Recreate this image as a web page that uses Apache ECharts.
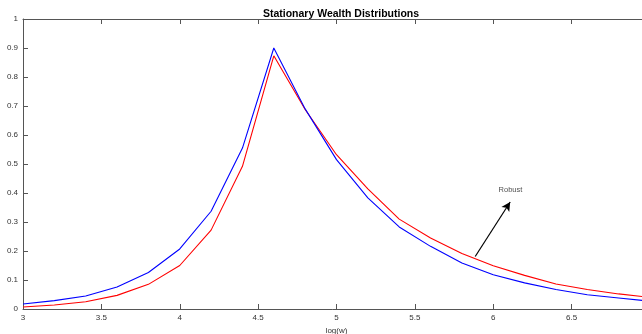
<!DOCTYPE html>
<html>
<head>
<meta charset="utf-8">
<script src="https://cdn.jsdelivr.net/npm/echarts@6/dist/echarts.min.js"></script>
<style>
  html, body { margin: 0; padding: 0; background: #fff; }
  #chart { width: 642px; height: 334px; }
</style>
</head>
<body>
<div id="chart"></div>
<script>
// log-wealth grid
const logW = [3.0, 3.2, 3.4, 3.6, 3.8, 4.0, 4.2, 4.4, 4.6, 4.8, 5.0,
              5.2, 5.4, 5.6, 5.8, 6.0, 6.2, 6.4, 6.6, 6.8, 7.0];
// density of the baseline model (blue)
const baseline = [0.017, 0.029, 0.045, 0.076, 0.126, 0.207, 0.337, 0.555, 0.900, 0.690, 0.515,
                  0.383, 0.283, 0.216, 0.159, 0.118, 0.090, 0.067, 0.049, 0.038, 0.027];
// density of the robust model (red)
const robust = [0.007, 0.014, 0.025, 0.047, 0.085, 0.150, 0.272, 0.492, 0.873, 0.688, 0.532,
                0.414, 0.310, 0.245, 0.191, 0.149, 0.116, 0.086, 0.067, 0.052, 0.040];
// annotation arrow and its text
const arrowFrom = [5.885, 0.181];
const arrowTo = [6.108, 0.369];
const noteText = 'Robust';
const notePos = [6.11, 0.41];

const axisColor = '#555';
const labelStyle = { fontSize: 8, color: '#333', fontFamily: 'Liberation Sans, Arial, sans-serif' };

function pairs(xs, ys) { return xs.map((x, i) => [x, ys[i]]); }

const chart = echarts.init(document.getElementById('chart'), null, { renderer: 'canvas' });
const boxAxis = {
  axisLine: { show: true, onZero: false, lineStyle: { color: axisColor, width: 1 } },
  axisTick: { show: true, inside: true, length: 5, lineStyle: { color: axisColor } },
  splitLine: { show: false }
};

chart.setOption({
  animation: false,
  backgroundColor: '#fff',
  title: {
    text: 'Stationary Wealth Distributions',
    left: 336, top: 4, textAlign: 'center',
    textStyle: { fontSize: 10.5, fontWeight: 'bold', color: '#000', fontFamily: 'Liberation Sans, Arial, sans-serif' }
  },
  grid: { left: 23, top: 19, width: 627, height: 290, containLabel: false, outerBoundsMode: 'none' },
  xAxis: [
    Object.assign({
      type: 'value', min: 3, max: 7, interval: 0.5, position: 'bottom',
      name: 'log(w)', nameLocation: 'middle', nameGap: 14,
      nameTextStyle: labelStyle,
      axisLabel: Object.assign({ margin: 5 }, labelStyle)
    }, boxAxis),
    Object.assign({
      type: 'value', min: 3, max: 7, interval: 0.5, position: 'top',
      axisLabel: { show: false }
    }, boxAxis)
  ],
  yAxis: [
    Object.assign({
      type: 'value', min: 0, max: 1, interval: 0.1, position: 'left',
      axisLabel: Object.assign({ margin: 5, formatter: v => String(+v.toFixed(1)) }, labelStyle)
    }, boxAxis),
    Object.assign({
      type: 'value', min: 0, max: 1, interval: 0.1, position: 'right',
      axisLabel: { show: false }
    }, boxAxis)
  ],
  series: [
    {
      type: 'line', data: pairs(logW, robust), showSymbol: false, symbol: 'none',
      lineStyle: { color: '#ff0000', width: 1.1 }, z: 3
    },
    {
      type: 'line', data: pairs(logW, baseline), showSymbol: false, symbol: 'none',
      lineStyle: { color: '#0000ff', width: 1.1 }, z: 4,
      markLine: {
        silent: true, symbol: ['none', 'arrow'], symbolSize: [7, 9],
        label: { show: false },
        lineStyle: { color: '#000', width: 1.2, type: 'solid' },
        data: [[{ coord: arrowFrom }, { coord: arrowTo }]]
      }
    },
    {
      type: 'scatter', data: [notePos], symbolSize: 0, silent: true,
      label: {
        show: true, position: 'inside', formatter: noteText,
        fontSize: 7.5, color: '#222', fontFamily: 'Liberation Sans, Arial, sans-serif'
      }
    }
  ]
});
</script>
</body>
</html>
